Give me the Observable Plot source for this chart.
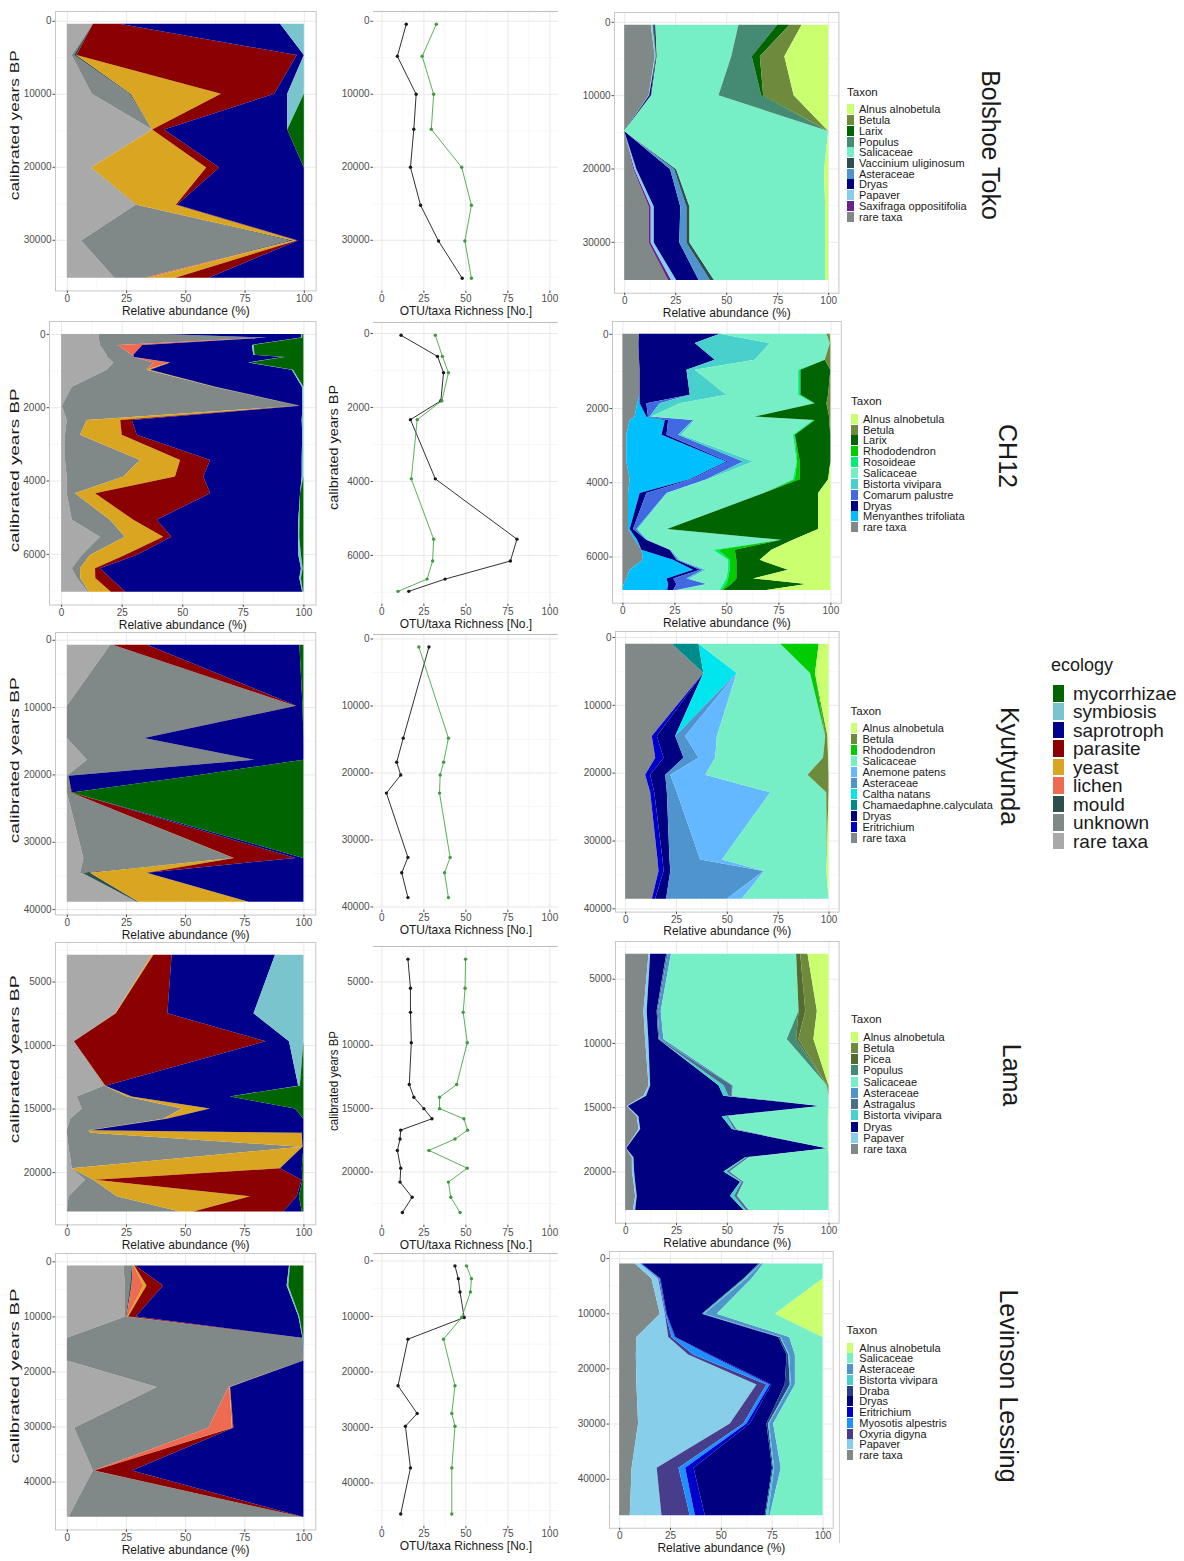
<!DOCTYPE html>
<html><head><meta charset="utf-8">
<script src="https://cdn.jsdelivr.net/npm/d3@7"></script>
<script src="https://cdn.jsdelivr.net/npm/@observablehq/plot@0.6"></script>
<style>
body{margin:0;background:#fff;}
#root{position:relative;width:1184px;height:1561px;overflow:hidden;background:#fff;font-family:"Liberation Sans",Arial,Helvetica,sans-serif;}
.pl{position:absolute;}
.pl svg{overflow:visible;display:block;}
.lg{position:absolute;white-space:nowrap;color:#1a1a1a;}
</style></head>
<body><div id="root"></div>
<script>
// ---------------- categories ----------------
const ECO_CATS = ["rare taxa","unknown","mould","lichen","yeast","parasite","saprotroph","symbiosis","mycorrhizae"];
const ECO_COLORS = ["#A9A9A9","#808987","#2F4F4F","#EE6A50","#DAA520","#8B0000","#00008B","#7AC5CD","#006400"];
const ECO_LEGEND = ["mycorrhizae","symbiosis","saprotroph","parasite","yeast","lichen","mould","unknown","rare taxa"];

const TAXON_COLORS = {
  "Alnus alnobetula":"#CAFF70","Betula":"#6E8B3D","Larix":"#006400","Populus":"#458B74",
  "Salicaceae":"#76EEC6","Vaccinium uliginosum":"#2F4F4F","Asteraceae":"#4F94CD","Dryas":"#000080",
  "Papaver":"#87CEEB","Saxifraga oppositifolia":"#68228B","rare taxa":"#808987",
  "Rhododendron":"#00CD00","Rosoideae":"#00EE76","Bistorta vivipara":"#48D1CC","Comarum palustre":"#4169E1",
  "Menyanthes trifoliata":"#00BFFF","Anemone patens":"#63B8FF","Caltha natans":"#00E5EE",
  "Chamaedaphne.calyculata":"#008B8B","Eritrichium":"#0000CD","Picea":"#556B2F","Astragalus":"#4A708B",
  "Draba":"#27408B","Myosotis alpestris":"#1E90FF","Oxyria digyna":"#483D8B"
};

// stacking order from 0 % (legend lists them in reverse)
const BT_TAXA = ["rare taxa","Saxifraga oppositifolia","Papaver","Dryas","Asteraceae","Vaccinium uliginosum","Salicaceae","Populus","Larix","Betula","Alnus alnobetula"];
const CH_TAXA = ["rare taxa","Menyanthes trifoliata","Dryas","Comarum palustre","Bistorta vivipara","Salicaceae","Rosoideae","Rhododendron","Larix","Betula","Alnus alnobetula"];
const KY_TAXA = ["rare taxa","Eritrichium","Dryas","Chamaedaphne.calyculata","Caltha natans","Asteraceae","Anemone patens","Salicaceae","Rhododendron","Betula","Alnus alnobetula"];
const LA_TAXA = ["rare taxa","Papaver","Dryas","Bistorta vivipara","Astragalus","Asteraceae","Salicaceae","Populus","Picea","Betula","Alnus alnobetula"];
const LL_TAXA = ["rare taxa","Papaver","Oxyria digyna","Myosotis alpestris","Eritrichium","Dryas","Draba","Bistorta vivipara","Asteraceae","Salicaceae","Alnus alnobetula"];

const SITES = ["Bolshoe Toko","CH12","Kyutyunda","Lama","Levinson Lessing"];

// ---------------- ecology (relative abundance %, rows: [age, ...ECO_CATS]) ----------------
const BT_ECO = [
[400, 11, 0, 0, 0, 0, 11, 68, 10, 0],
[4700, 2, 1, 1, 0, 0, 93, 3, 0, 0],
[10000, 10.5, 16, 0.5, 0, 38, 22.5, 5.5, 7, 0],
[14900, 36, 0, 0, 0, 0, 5, 52, 0, 7],
[20100, 10, 0.3, 0, 0, 48.5, 5.5, 35.7, 0, 0],
[25200, 29, 0.5, 0, 0, 16.5, 0.5, 53.5, 0, 0],
[30100, 6, 88, 1.5, 0.3, 1.2, 0.5, 2.5, 0, 0],
[35200, 20, 12.5, 0.3, 2, 11, 14, 40.2, 0, 0]];
const CH_ECO = [
[0, 15.4, 27, 0, 0, 0, 0, 56.6, 0.5, 0.5],
[100, 15.5, 69.5, 0, 0, 0, 0, 14, 0.5, 0.5],
[300, 16, 7.5, 0, 10, 0, 0, 45.3, 0.7, 20.5],
[570, 18.8, 10.3, 0, 0.7, 0, 0, 49.5, 0.5, 20.2],
[630, 19, 11, 0, 0, 0, 0, 61.7, 0.5, 7.8],
[780, 21.6, 16.5, 0, 6.2, 0.7, 0, 32.3, 0.5, 22.2],
[980, 18.8, 16.5, 0, 0, 1.4, 0, 58.5, 0.5, 4.3],
[1440, 4.4, 58.5, 0, 0, 0.7, 0, 35.8, 0.6, 0],
[1960, 0.3, 97.7, 0, 0, 0.3, 0.3, 1, 0.4, 0],
[2350, 2.3, 8.3, 0, 0, 13.8, 4.8, 70.1, 0.7, 0],
[2750, 1.6, 6.2, 0, 0, 17.2, 6.2, 68.3, 0.5, 0],
[3440, 1.6, 31, 0, 0, 16.5, 12.4, 37.8, 0.7, 0],
[3890, 2.3, 23.4, 0, 0, 21.3, 11.7, 40.6, 0.7, 0],
[4350, 2.3, 3.4, 0, 0, 8.3, 47.5, 37.1, 0, 1.4],
[5070, 4.4, 15.8, 0, 0, 9.6, 9.6, 58.5, 0.5, 1.6],
[5530, 16, 10.3, 0, 0, 15.8, 3.4, 52.3, 0.5, 1.7],
[6030, 8.5, 3.4, 0, 0, 14.4, 4.8, 66.8, 1.1, 1],
[6390, 4.4, 3.4, 0, 0, 6.2, 2, 83, 0.7, 0.3],
[6660, 6.5, 1.4, 0, 0, 6.2, 6.2, 78, 0.7, 1],
[7030, 11, 0.5, 0, 0, 9, 6, 73, 0.3, 0.2]];
const KY_ECO = [
[750, 18.3, 1, 0, 0, 0, 14.6, 64.4, 0, 1.7],
[9800, 0, 96.5, 0, 0, 0, 0.5, 2.6, 0, 0.4],
[14600, 0, 32.4, 0, 0, 0, 0.2, 67.4, 0, 0],
[17800, 8.5, 70.4, 0, 0, 0, 0.3, 20.8, 0, 0],
[20200, 0, 0.7, 0, 0, 0, 0, 53, 0, 46.3],
[22700, 0, 1.8, 0, 0, 0, 0.3, 0, 0, 97.9],
[32400, 7, 63.4, 0, 0, 0.2, 26, 3.4, 0, 0],
[34600, 5.6, 1, 3.2, 0, 24, 0, 66.2, 0, 0],
[38900, 29.6, 0, 0.7, 0, 46.5, 0, 23.2, 0, 0]];
const LA_ECO = [
[2900, 35.9, 0, 0, 0, 0.7, 7.7, 43.7, 12, 0],
[7500, 20.4, 0, 0, 0, 0.3, 21.8, 36.4, 21.1, 0],
[9700, 2.8, 0.2, 0, 0, 0, 81, 9.9, 6.1, 0],
[13200, 15.5, 0.5, 0, 0, 0.3, 0, 81.5, 0.7, 1.5],
[14050, 4.2, 21.1, 0, 0, 2.1, 0, 41.5, 0.1, 31],
[15000, 6.3, 42.3, 0, 0.4, 11.5, 0, 35.9, 0, 3.6],
[15800, 1.4, 39.4, 0, 0, 1.4, 0, 57.8, 0, 0],
[16700, 0, 9.2, 0, 0, 0.7, 0, 90.1, 0, 0],
[16900, 0, 10.1, 0, 0, 89.2, 0, 0.7, 0, 0],
[18000, 0.7, 98.6, 0, 0, 0.3, 0, 0.4, 0, 0],
[19700, 2.1, 0, 0, 0, 88, 0, 9.2, 0, 0.7],
[20600, 7.7, 3.5, 0, 0, 0.7, 87.3, 0.4, 0, 0.4],
[21900, 0.7, 20.4, 0, 0, 56.3, 19.7, 1, 0, 1.9],
[23100, 0, 47.9, 0, 0, 5.6, 38, 7.8, 0, 0.7]];
const LL_ECO = [
[770, 23.9, 3.5, 0.4, 0.4, 0.3, 0.4, 65, 0.4, 5.7],
[4400, 24.6, 2.1, 0.7, 4.9, 1.4, 7, 52.2, 0.7, 6.4],
[10000, 24.6, 0.3, 0.3, 0.4, 0.3, 3.2, 68.8, 0.4, 1.7],
[13900, 0, 99.3, 0, 0, 0, 0, 0.3, 0.2, 0.2],
[18000, 0, 100, 0, 0, 0, 0, 0, 0, 0],
[22800, 38, 30.3, 0, 0.4, 0.3, 0, 31, 0, 0],
[30200, 3.1, 56.8, 0, 9.9, 0.3, 0.3, 29.6, 0, 0],
[38000, 11, 0.3, 0, 0.3, 0, 15.9, 72.5, 0, 0],
[46400, 0.7, 98.6, 0, 0, 0, 0.4, 0.3, 0, 0]];

// ---------------- taxa (relative abundance %, rows: [age, ...XX_TAXA]) ----------------
const BT_TAX = [
[400, 13, 0, 1, 0.3, 0, 1, 40.7, 19, 6, 6, 13],
[4700, 15, 0, 0.5, 0, 0, 0.5, 36.5, 10, 4, 12, 21.5],
[10000, 12, 0, 0.3, 0.8, 0, 0.3, 33, 21, 1, 15, 17],
[14900, 0, 0, 0, 0, 0, 0, 100, 0, 0, 0, 0],
[20100, 4.5, 0.5, 1, 16.5, 2, 1, 72.5, 0, 0, 0, 2],
[25200, 12, 1, 1.5, 13, 3, 1.5, 66.5, 0, 0, 0, 1.5],
[30100, 12, 1, 1.5, 12.5, 3.5, 1.5, 66.5, 0, 0, 0, 1.5],
[35200, 21.5, 1.5, 2.5, 11, 5.5, 2, 54.5, 0, 0, 0, 1.5]];
const CH_TAX = [
[0, 8, 0, 38.8, 0, 0, 51.3, 0, 0, 0, 1.6, 0.3],
[250, 7.7, 0, 27.1, 0, 36, 28.9, 0, 0, 0, 0.3, 0],
[700, 8, 0, 36.4, 0, 19.2, 33.7, 0, 0, 0, 2.7, 0],
[970, 8.3, 0, 22.5, 0, 4, 49.7, 1.1, 0, 14.4, 0, 0],
[1640, 8.3, 0, 24.1, 0, 17.6, 34.5, 1.1, 0, 13.3, 1.1, 0],
[1870, 7.1, 1.2, 3.2, 6.4, 9.7, 64.1, 0.8, 0, 5.6, 1.9, 0],
[2230, 5.9, 5.6, 0.8, 0.8, 0.8, 49.7, 0, 0, 35.8, 0.6, 0],
[2320, 3.5, 16.9, 1.6, 12, 0.8, 56.9, 0.8, 0, 6.9, 0.6, 0],
[2720, 1.9, 16.9, 2.4, 5.6, 1.6, 53.6, 0.9, 0, 17.1, 0, 0],
[3440, 1.9, 48.1, 0.8, 7.2, 4.8, 20.9, 0.3, 1.3, 14.7, 0, 0],
[3920, 3.5, 28.9, 0.8, 7.2, 0.8, 40.8, 0.9, 2.4, 13.6, 0, 1.1],
[4290, 2.7, 5.6, 3.2, 9.7, 0.3, 46.4, 0, 0, 26.2, 0, 5.9],
[5260, 2.7, 0.8, 1.6, 1.6, 0.8, 14, 0, 0, 72.6, 0, 5.9],
[5550, 5.9, 1.2, 4.4, 0, 0.8, 63.3, 0.8, 0, 5.6, 0, 18],
[5820, 9.1, 0, 13.7, 0, 0.8, 20, 2.4, 8, 17.6, 0, 28.4],
[6090, 9.9, 14.5, 1.6, 0.8, 0.8, 23.2, 0.8, 3.2, 11.2, 0, 34],
[6360, 3.5, 30.5, 3.2, 1.6, 1.6, 10.4, 0.8, 3.2, 24.8, 0, 20.4],
[6590, 1.9, 19.3, 3.2, 6.4, 1.6, 17.6, 0.8, 4, 8, 0, 37.2],
[6740, 0.6, 21.4, 4, 14.4, 0.8, 7.2, 1.6, 2.4, 36.1, 0, 11.5],
[6900, 0, 21.5, 2.9, 1.6, 0.8, 20, 0.8, 0.8, 20.8, 0, 30.8]];
const KY_TAX = [
[1000, 23, 0, 0, 13.1, 0, 0, 0, 40.2, 18.9, 0, 4.8],
[5300, 38.5, 0, 0, 0, 16.4, 0, 0, 36.1, 2.5, 0, 6.6],
[14600, 13.1, 2.5, 9, 0, 0, 4.9, 15.6, 53.3, 0, 1.1, 0.5],
[17800, 14.8, 4.1, 9.8, 0, 0, 7.4, 8.2, 53, 0, 2.5, 0.2],
[20300, 9.8, 2.5, 7.4, 0, 0, 2.5, 17.2, 50.3, 0, 10.3, 0],
[22900, 12.3, 2, 6.2, 0, 0, 4.9, 45.9, 27.5, 0, 1.1, 0],
[32800, 15.9, 2.5, 3.4, 0, 0, 15.1, 10.7, 51.6, 0, 0, 0.8],
[34500, 16.4, 2.5, 3.3, 0, 0, 45.9, 0.3, 30.6, 0, 0, 1],
[38600, 13.1, 1.6, 5.4, 0, 0, 29.8, 7.4, 42.6, 0, 0, 0]];
const LA_TAX = [
[3060, 11.5, 0.8, 7.9, 0, 0.7, 1.6, 61.6, 0, 2, 3.6, 10.3],
[7500, 9, 1.6, 4.9, 0, 0.5, 1.5, 67.8, 0, 3.3, 5.7, 5.7],
[9700, 9.8, 1.6, 4.9, 0, 0.5, 2, 60.7, 4.6, 1.1, 7.4, 7.4],
[13300, 11.5, 0.8, 33.6, 2.5, 4.1, 0.5, 46.2, 0, 0, 0.8, 0],
[14100, 9, 1.3, 38, 2.5, 1.6, 0.3, 47.3, 0, 0, 0, 0],
[14900, 0.8, 0.5, 94.6, 0, 0, 0, 4.1, 0, 0, 0, 0],
[15700, 5.7, 0.8, 41, 2.5, 0.5, 0.3, 48.9, 0, 0, 0, 0.3],
[16700, 6.6, 0.8, 45.1, 1.1, 1, 0.3, 44.8, 0, 0, 0, 0.3],
[18200, 0.3, 0.2, 98.7, 0, 0, 0, 0.5, 0, 0, 0, 0.3],
[18900, 3.3, 0.8, 54.9, 0.5, 1.1, 0.3, 39, 0, 0, 0, 0],
[20000, 3.3, 1.1, 43.9, 1.6, 1.3, 0.3, 48.4, 0, 0, 0, 0],
[20800, 4.1, 0.8, 51.6, 0.8, 0.8, 0.3, 41.5, 0, 0, 0, 0],
[21900, 4.9, 0.8, 45.9, 2, 1.3, 0.3, 44.8, 0, 0, 0, 0],
[23000, 3.8, 1.1, 53.3, 1.1, 1.3, 0.3, 39, 0, 0, 0, 0]];
const LL_TAX = [
[1000, 7.7, 2.5, 0, 0.8, 0, 57.4, 0.8, 0.5, 1.1, 29.2, 0],
[3700, 15.9, 3.3, 0.5, 0.3, 0.3, 40.7, 0.5, 1.1, 2.5, 34.9, 0],
[10100, 20, 2.5, 0.3, 0.3, 0.3, 17.2, 0.5, 0.7, 6.2, 28.7, 23.4],
[14300, 8.5, 15.6, 1.6, 1.6, 0.3, 50.5, 0.8, 0.5, 4.1, 16.4, 0],
[17500, 8.2, 25.7, 2.5, 7.4, 0.8, 37.7, 0.8, 0.5, 2.8, 13.6, 0],
[22900, 8.5, 59, 4.9, 1.6, 0.8, 6.6, 2.5, 0.5, 2, 13.6, 0],
[30000, 9.3, 45.1, 6.6, 1.6, 1.6, 8.2, 0.8, 0.5, 2, 24.3, 0],
[38000, 6.1, 12.3, 10.7, 3.3, 4.1, 38.5, 0.5, 0.5, 3.3, 20.5, 0],
[46600, 5.2, 15.6, 13.9, 2.5, 4.9, 29.5, 0.5, 1.1, 0.8, 26, 0]];

// ---------------- richness (OTU = black, taxa = green) ----------------
const BT_AGES = [400, 4800, 10000, 14800, 20000, 25200, 30100, 35200];
const BT_OTU  = [14.5, 9.2, 20.4, 19, 17, 23, 33.7, 47.8];
const BT_TAXN = [32.4, 24, 30.8, 29.4, 47.5, 53.3, 49.4, 53.3];
const CH_AGES = [50, 620, 1060, 1820, 2330, 3930, 5560, 6150, 6640, 6970];
const CH_OTU  = [11.4, 33.1, 36.7, 35.1, 17, 31.8, 80.4, 76.5, 37.6, 16];
const CH_TAXN = [31.8, 36, 39.6, 35.7, 21, 17.5, 30.8, 30.2, 26.9, 9.6];
const KY_AGES = [1200, 14800, 18400, 20300, 23000, 32600, 34900, 38600];
const KY_OTU  = [28, 12.7, 8.8, 11.2, 2.7, 15.5, 11.8, 15.5];
const KY_TAXN = [22, 39.6, 36.7, 34.7, 34.3, 40.6, 37.3, 39.6];
const LA_AGES = [3200, 5500, 7400, 9800, 13100, 14100, 15000, 15800, 16700, 17400, 18300, 19700, 20800, 22000, 23200];
const LA_OTU  = [15.5, 17, 17, 17.5, 16.3, 19, 25, 29.8, 11.2, 10.8, 9.2, 11.2, 10.8, 18, 12.2];
const LA_TAXN = [49.8, 49.5, 48.4, 50.8, 44.5, 34.3, 34.3, 48.8, 51, 43.5, 28, 50.8, 39.6, 41, 46.5];
const LL_AGES = [900, 3200, 5600, 10200, 14100, 22500, 27500, 29800, 37300, 45600];
const LL_OTU  = [43.5, 45.5, 46.5, 49, 15.5, 9.6, 21, 14, 17, 11.2];
const LL_TAXN = [50.4, 53.3, 52.7, 47.5, 36.7, 43.5, 41.6, 43.5, 41.6, 41.6];

// ---------------- tick labels ----------------
const X_TICKS = [0, 25, 50, 75, 100];
const Y_TICKS = [[0,10000,20000,30000],[0,2000,4000,6000],[0,10000,20000,30000,40000],[5000,10000,15000,20000],[0,10000,20000,30000,40000]];

// ---------------- drawing ----------------
const FONT = '"Liberation Sans", Arial, Helvetica, sans-serif';
const root = document.getElementById("root");

function frameOf(s, ages){
  const lo=d3.min(ages), hi=d3.max(ages), pad=(hi-lo)*0.05;
  const ydom=[lo-pad, hi+pad];
  const kx=(s.x100-s.x0)/100, ky=(s.pyB-s.pyA)/(s.ageB-s.ageA);
  return {ydom, left:s.x0-5*kx, right:s.x0+105*kx, top:s.pyA+(ydom[0]-s.ageA)*ky, bottom:s.pyA+(ydom[1]-s.ageA)*ky};
}
function mids(t){const m=[];for(let i=0;i<t.length-1;i++)m.push((t[i]+t[i+1])/2);return m;}
function toLong(rows, cats){
  const out=[];
  cats.forEach((c,i)=>rows.forEach(r=>out.push({age:r[0],cat:c,value:r[i+1]})));
  return out;
}

function panel(s){
  const isArea = s.kind==="area";
  const ages = isArea ? s.rows.map(r=>r[0]) : s.ages;
  const f = frameOf(s, ages);
  const ml=80, mr=10, mt=6, mb=40;
  const sc = isArea ? 0.01 : 1;
  const xt = X_TICKS.map(v=>v*sc), xm = mids(X_TICKS).map(v=>v*sc);
  const yt = s.yticks, st = yt[1]-yt[0];
  const ym = [yt[0]-st/2, ...mids(yt), yt[yt.length-1]+st/2].filter(v=>v>f.ydom[0]&&v<f.ydom[1]);
  const marks = [
    Plot.gridX(xm,{stroke:"#f2f2f2",strokeOpacity:1,strokeWidth:0.6}),
    Plot.gridY(ym,{stroke:"#f2f2f2",strokeOpacity:1,strokeWidth:0.6}),
    Plot.gridX(xt,{stroke:"#e6e6e6",strokeOpacity:1,strokeWidth:0.9}),
    Plot.gridY(yt,{stroke:"#e6e6e6",strokeOpacity:1,strokeWidth:0.9})
  ];
  if(isArea){
    marks.push(Plot.areaX(toLong(s.rows, s.cats), {y:"age", x:"value", fill:"cat", order:s.cats, offset:"normalize", curve:"linear"}));
    marks.push(Plot.frame({stroke:"#c6c6c6", strokeWidth:1}));
  } else {
    const blk = s.ages.map((a,i)=>({age:a, v:s.otu[i]}));
    const grn = s.ages.map((a,i)=>({age:a, v:s.taxn[i]}));
    marks.push(Plot.ruleY([f.ydom[0]],{stroke:"#bdbdbd",strokeWidth:1}));
    marks.push(Plot.line(blk,{x:"v",y:"age",stroke:"#1a1a1a",strokeWidth:0.9}));
    marks.push(Plot.dot(blk,{x:"v",y:"age",fill:"#1a1a1a",r:1.7}));
    marks.push(Plot.line(grn,{x:"v",y:"age",stroke:"#4aa64a",strokeWidth:0.9}));
    marks.push(Plot.dot(grn,{x:"v",y:"age",fill:"#3f9a3f",r:1.7}));
  }
  marks.push(Plot.axisX({ticks:xt, tickFormat:d=>String(Math.round(d/sc)), tickSize:2.5, tickPadding:1.5, label:null, fontSize:10, color:"#4d4d4d"}));
  marks.push(Plot.axisY({ticks:yt, tickFormat:d=>String(d), tickSize:2.5, tickPadding:1.5, label:null, fontSize:10, color:"#4d4d4d"}));
  marks.push(Plot.text([s.xlab],{text:d=>d, frameAnchor:"bottom", dy:s.xdy ?? 20, lineAnchor:"middle", textAnchor:"middle", fontSize:12, fill:"#1a1a1a"}));
  if(s.ytitle){
    marks.push(Plot.text(["calibrated years BP"],{text:d=>d, frameAnchor:"top-left", dx:s.ytitle.x-f.left, dy:s.ytitle.y-f.top, rotate:-90, textAnchor:"middle", lineAnchor:"middle", fontSize:12, fill:"#1a1a1a"}));
  }
  const svg = Plot.plot({
    width: f.right-f.left+ml+mr, height: f.bottom-f.top+mt+mb,
    marginLeft:ml, marginRight:mr, marginTop:mt, marginBottom:mb,
    x:{domain:[-5*sc,105*sc], axis:null},
    y:{domain:f.ydom, reverse:true, axis:null},
    color: isArea ? {domain:s.cats, range:s.colors} : undefined,
    style:{fontFamily:FONT, overflow:"visible", background:"transparent"},
    marks
  });
  if(s.ytitle){
    svg.querySelectorAll("text").forEach(t=>{
      if(t.textContent==="calibrated years BP"){t.setAttribute("textLength", s.ytitle.len); t.setAttribute("lengthAdjust","spacingAndGlyphs");}
    });
  }
  const d=document.createElement("div");
  d.className="pl"; d.style.left=(f.left-ml)+"px"; d.style.top=(f.top-mt)+"px";
  d.appendChild(svg); root.appendChild(d);
}

const RA = "Relative abundance (%)", RI = "OTU/taxa Richness [No.]";
const taxCols = list => list.map(n=>TAXON_COLORS[n]);

// row geometry: [x0,x100,ageA,pyA,ageB,pyB]
const rows = [
 {eco:BT_ECO, tax:BT_TAX, taxa:BT_TAXA, ages:BT_AGES, otu:BT_OTU, taxn:BT_TAXN,
  L:[67,304,0,21,30000,240], M:[381,549,0,21,30000,240], R:[624,828,0,21.7,30000,241.7],
  yt:{x:15,y:125,len:150}, mt:null},
 {eco:CH_ECO, tax:CH_TAX, taxa:CH_TAXA, ages:CH_AGES, otu:CH_OTU, taxn:CH_TAXN,
  L:[61,303.3,0,334,6000,554], M:[381,549,0,333,6000,555], R:[622.7,830.7,0,334,6000,556.7],
  yt:{x:15,y:470,len:164}, mt:{x:333,y:447,len:125}},
 {eco:KY_ECO, tax:KY_TAX, taxa:KY_TAXA, ages:KY_AGES, otu:KY_OTU, taxn:KY_TAXN,
  L:[66.7,303.3,0,640,40000,909.3], M:[381,549,0,638,40000,906], R:[625,828.3,0,637.3,40000,908.7],
  yt:{x:15,y:760,len:166}, mt:null},
 {eco:LA_ECO, tax:LA_TAX, taxa:LA_TAXA, ages:LA_AGES, otu:LA_OTU, taxn:LA_TAXN,
  L:[66.7,303.3,5000,981.7,20000,1172.3], M:[381,549,5000,981,20000,1171], R:[625,828.3,5000,978.3,20000,1171],
  yt:{x:15,y:1059,len:168}, mt:{x:333,y:1080,len:100}},
 {eco:LL_ECO, tax:LL_TAX, taxa:LL_TAXA, ages:LL_AGES, otu:LL_OTU, taxn:LL_TAXN,
  L:[66.7,303.3,0,1261.7,40000,1482], M:[381,549,0,1260,40000,1482], R:[619.3,822.7,0,1258.3,40000,1479],
  yt:{x:15,y:1376,len:175}, mt:null}
];
const geo = g => ({x0:g[0],x100:g[1],ageA:g[2],pyA:g[3],ageB:g[4],pyB:g[5]});

rows.forEach((r,i)=>{
  panel({kind:"area", rows:r.eco, cats:ECO_CATS, colors:ECO_COLORS, yticks:Y_TICKS[i], xlab:RA, xdy:20, ytitle:r.yt, ...geo(r.L)});
  panel({kind:"rich", ages:r.ages, otu:r.otu, taxn:r.taxn, yticks:Y_TICKS[i], xlab:RI, xdy:20, ytitle:r.mt, ...geo(r.M)});
  panel({kind:"area", rows:r.tax, cats:r.taxa, colors:taxCols(r.taxa), yticks:Y_TICKS[i], xlab:RA, xdy:19.5, ytitle:null, ...geo(r.R)});
});

// ---------------- legends ----------------
function addText(txt, x, y, size){
  const e=document.createElement("div"); e.className="lg"; e.textContent=txt;
  e.style.left=x+"px"; e.style.top=y+"px"; e.style.fontSize=size+"px"; e.style.lineHeight="1";
  e.style.transform="translateY(-50%)"; root.appendChild(e); return e;
}
function addBox(x,y,w,h,c){
  const e=document.createElement("div"); e.style.position="absolute";
  e.style.left=x+"px"; e.style.top=y+"px"; e.style.width=w+"px"; e.style.height=h+"px"; e.style.background=c;
  root.appendChild(e);
}
const TAX_LEG = [
  {ty:92.7, y0:109.3, step:10.74, sx:847, lx:859},
  {ty:402, y0:418.7, step:10.86, sx:851, lx:863},
  {ty:711.7, y0:728.3, step:10.94, sx:850.5, lx:862.5},
  {ty:1020, y0:1036.7, step:11.23, sx:851, lx:863.3},
  {ty:1331, y0:1347.7, step:10.73, sx:846.5, lx:859.3}
];
rows.forEach((r,i)=>{
  const L=TAX_LEG[i];
  addText("Taxon", L.sx, L.ty, 11.5);
  r.taxa.slice().reverse().forEach((n,k)=>{
    const cy=L.y0+k*L.step;
    addBox(L.sx, cy-5, 6.5, 10, TAXON_COLORS[n]);
    addText(n, L.lx, cy, 11);
  });
});
// ecology legend
addText("ecology", 1051, 665, 18);
ECO_LEGEND.forEach((n,k)=>{
  const cy=693+k*18.45;
  addBox(1053, cy-8, 11, 16.5, ECO_COLORS[ECO_CATS.indexOf(n)]);
  addText(n, 1073, cy, 19);
});
// site labels
const SITE_POS = [[990,145],[1007,456],[1009,766],[1011,1075],[1008,1386]];
SITES.forEach((s,i)=>{
  const e=document.createElement("div"); e.className="lg"; e.textContent=s;
  e.style.left=SITE_POS[i][0]+"px"; e.style.top=SITE_POS[i][1]+"px"; e.style.fontSize="25px"; e.style.lineHeight="1";
  e.style.transform="translate(-50%,-50%) rotate(90deg)"; root.appendChild(e);
});
// thin separator line next to last taxon panel
addBox(839, 1280, 1, 263, "#d0d0d0");
</script></body></html>
